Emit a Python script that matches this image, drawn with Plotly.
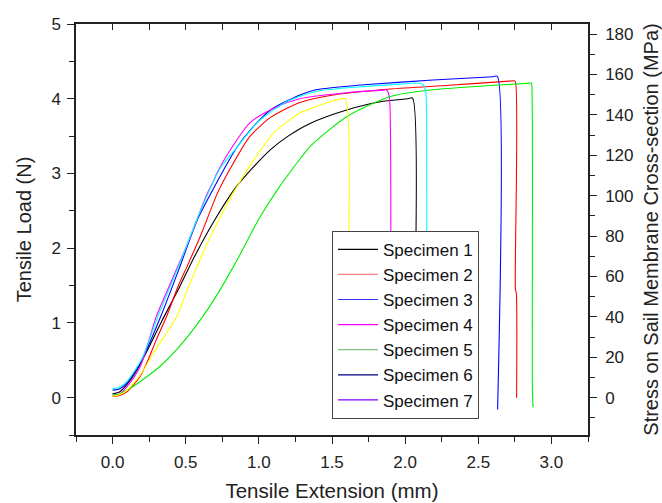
import plotly.graph_objects as go

# ---------------- data ----------------
s1_x = [0.0, 0.05, 0.1, 0.17, 0.25, 0.33, 0.45, 0.55, 0.69, 0.83, 0.96, 1.08, 1.2, 1.35, 1.6, 1.83, 2.02, 2.05, 2.052]
s1_y = [0.05, 0.08, 0.18, 0.38, 0.68, 1.0, 1.45, 1.85, 2.35, 2.78, 3.08, 3.32, 3.5, 3.67, 3.85, 3.96, 4.0, 4.01, -0.1]

s2_x = [0.0, 0.05, 0.1, 0.2, 0.3, 0.37, 0.45, 0.51, 0.6, 0.72, 0.8, 0.94, 1.08, 1.21, 1.28, 1.51, 1.9, 2.3, 2.71, 2.74, 2.753, 2.754, 2.76, 2.762]
s2_y = [0.02, 0.03, 0.08, 0.32, 0.78, 1.09, 1.5, 1.76, 2.16, 2.75, 3.05, 3.5, 3.75, 3.89, 3.95, 4.05, 4.13, 4.18, 4.235, 4.24, 4.23, 1.45, 1.4, 0.0]

s3_x = [0.0, 0.05, 0.1, 0.2, 0.33, 0.45, 0.58, 0.69, 0.76, 0.85, 0.95, 1.08, 1.28, 1.39, 1.62, 1.74, 2.19, 2.6, 2.63, 2.632]
s3_y = [0.1, 0.12, 0.2, 0.5, 1.09, 1.7, 2.38, 2.8, 3.05, 3.35, 3.6, 3.85, 4.05, 4.12, 4.17, 4.19, 4.25, 4.295, 4.30, -0.16]

s4_x = [0.0, 0.05, 0.1, 0.19, 0.3, 0.4, 0.5, 0.6, 0.644, 0.69, 0.712, 0.8, 0.94, 1.12, 1.28, 1.6, 1.85, 1.87, 1.885, 1.895, 1.9]
s4_y = [0.03, 0.05, 0.15, 0.42, 1.09, 1.55, 2.0, 2.5, 2.72, 2.9, 3.0, 3.3, 3.68, 3.89, 4.0, 4.08, 4.115, 4.12, 4.08, 3.95, -0.08]

s5_x = [0.0, 0.05, 0.14, 0.22, 0.325, 0.45, 0.62, 0.72, 0.825, 0.87, 1.0, 1.13, 1.28, 1.35, 1.6, 1.9, 2.19, 2.53, 2.83, 2.862, 2.866, 2.87, 2.875]
s5_y = [0.03, 0.05, 0.15, 0.26, 0.42, 0.67, 1.095, 1.395, 1.75, 1.91, 2.39, 2.79, 3.19, 3.36, 3.76, 4.03, 4.12, 4.17, 4.205, 4.21, 4.18, 0.1, -0.13]

s6_x = [0.0, 0.05, 0.1, 0.2, 0.28, 0.44, 0.51, 0.67, 0.83, 0.85, 0.905, 1.1, 1.28, 1.33, 1.5, 1.555, 1.59, 1.592]
s6_y = [0.02, 0.04, 0.1, 0.33, 0.6, 1.09, 1.44, 2.16, 2.76, 2.82, 3.0, 3.54, 3.81, 3.85, 3.97, 3.995, 4.0, 0.0]

s7_x = [0.0, 0.05, 0.1, 0.2, 0.31, 0.45, 0.58, 0.73, 0.85, 1.0, 1.2, 1.4, 1.7, 2.0, 2.08, 2.12, 2.14, 2.145, 2.146]
s7_y = [0.12, 0.14, 0.22, 0.52, 1.09, 1.75, 2.4, 3.05, 3.35, 3.7, 3.97, 4.1, 4.16, 4.2, 4.21, 4.19, 4.1, 3.95, 0.0]

names = ["Specimen 1", "Specimen 2", "Specimen 3", "Specimen 4", "Specimen 5", "Specimen 6", "Specimen 7"]
curve_colors = ["#000000", "#ff0000", "#0000ff", "#ff00ff", "#00ee00", "#ffff00", "#00ffff"]
legend_colors = ["#000000", "#ff8080", "#3030ff", "#ff00ff", "#80c080", "#000080", "#8000ff"]

x_ticks = [0.0, 0.5, 1.0, 1.5, 2.0, 2.5, 3.0]
y_ticks = [0, 1, 2, 3, 4, 5]
stress_ticks = [0, 20, 40, 60, 80, 100, 120, 140, 160, 180]

FONT = "Arial, 'Liberation Sans', sans-serif"

fig = go.Figure()
series = [(s1_x, s1_y), (s2_x, s2_y), (s3_x, s3_y), (s4_x, s4_y), (s5_x, s5_y), (s6_x, s6_y), (s7_x, s7_y)]
for i, (xs, ys) in enumerate(series):
    fig.add_trace(go.Scatter(x=xs, y=ys, mode="lines", name=names[i],
                             line=dict(color=curve_colors[i], width=1.1, shape="spline", smoothing=0.7),
                             showlegend=False, hoverinfo="skip"))

# legend entries (as shown in the reference legend)
for i in range(7):
    fig.add_trace(go.Scatter(x=[None], y=[None], mode="lines", name=names[i],
                             line=dict(color=legend_colors[i], width=1.2), showlegend=True))

# invisible traces to bind the auxiliary axes
fig.add_trace(go.Scatter(x=[None], y=[None], xaxis="x2", yaxis="y", showlegend=False))
fig.add_trace(go.Scatter(x=[None], y=[None], xaxis="x", yaxis="y2", showlegend=False))

axis_common = dict(showgrid=False, zeroline=False, showline=True, linecolor="#222222", linewidth=1.5,
                   tickcolor="#222222", tickwidth=1.3, automargin=False,
                   tickfont=dict(family=FONT, size=17, color="#222222"))

fig.update_layout(
    width=662, height=503,
    margin=dict(l=76, r=74, t=24, b=68),
    paper_bgcolor="white", plot_bgcolor="white",
    font=dict(family=FONT, color="#222222"),
    xaxis=dict(range=[-0.25, 3.25], tickvals=x_ticks, ticktext=[f"{v:.1f}" for v in x_ticks],
               ticks="outside", ticklen=7, mirror=True, ticklabelstandoff=4,
               minor=dict(dtick=0.25, tick0=0, ticks="outside", ticklen=5, tickcolor="#222222"),
               title=dict(text="Tensile Extension (mm)", font=dict(family=FONT, size=20.5), standoff=12),
               **axis_common),
    xaxis2=dict(range=[-0.25, 3.25], overlaying="x", side="top", anchor="y", showline=False,
                showgrid=False, zeroline=False, showticklabels=False, tick0=0, dtick=0.25,
                ticks="inside", ticklen=6, tickcolor="#222222", tickwidth=1.3, automargin=False),
    yaxis=dict(range=[-0.5, 5], tickvals=y_ticks, ticks="outside", ticklen=7, ticklabelstandoff=3,
               minor=dict(dtick=0.5, tick0=0, ticks="outside", ticklen=5, tickcolor="#222222"),
               title=dict(text="Tensile Load (N)", font=dict(family=FONT, size=20), standoff=14),
               **axis_common),
    yaxis2=dict(range=[-18.5, 185], overlaying="y", side="right", anchor="x", tickvals=stress_ticks,
                ticks="outside", ticklen=7, ticklabelstandoff=5,
                minor=dict(dtick=10, tick0=0, ticks="outside", ticklen=5, tickcolor="#222222"),
                title=dict(text="Stress on Sail Membrane Cross-section (MPa)", font=dict(family=FONT, size=20), standoff=12),
                **axis_common),
    legend=dict(x=0.5, y=0.497, xanchor="left", yanchor="top", bgcolor="white",
                bordercolor="#444444", borderwidth=1, font=dict(family=FONT, size=17, color="#111111"),
                tracegroupgap=0, itemwidth=40),
    showlegend=True,
)

fig.write_html("out.html", config={"displayModeBar": False},
               post_script="document.body.style.margin='0px';document.body.style.padding='0px';")
